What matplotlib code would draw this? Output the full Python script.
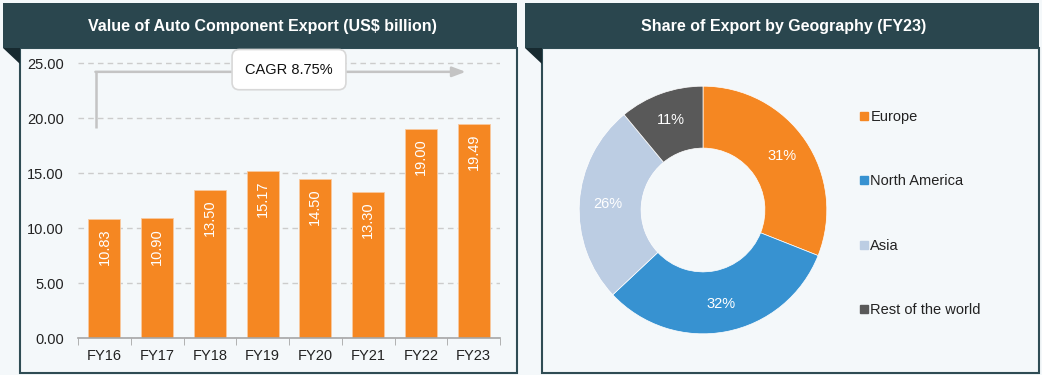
import matplotlib.pyplot as plt
from matplotlib.patches import Rectangle, Polygon
from matplotlib.lines import Line2D

plt.rcParams["font.family"] = ["Liberation Sans", "DejaVu Sans"]

# Data
years = ["FY16", "FY17", "FY18", "FY19", "FY20", "FY21", "FY22", "FY23"]
export_value = [10.83, 10.90, 13.50, 15.17, 14.50, 13.30, 19.00, 19.49]
y_ticks = [0, 5, 10, 15, 20, 25]
cagr_text = "CAGR 8.75%"

regions = ["Europe", "North America", "Asia", "Rest of the world"]
shares = [31, 32, 26, 11]
region_colors = ["#f58722", "#3792d1", "#bccde3", "#595959"]

W, H = 1042, 375
BG = "#f4f8fa"
HEAD = "#2a464e"
FOLD = "#172a30"
ORANGE = "#f58722"

fig = plt.figure(figsize=(W / 100, H / 100), dpi=100, facecolor=BG)


def fx(px):
    return px / W


def fy(py):
    return 1 - py / H


def panel(x0, x1, title):
    # content box
    fig.patches.append(Rectangle((fx(x0 + 17), fy(373)), fx(x1 - x0 - 17), fy(48) - fy(373),
                                 transform=fig.transFigure, facecolor=BG,
                                 edgecolor="#2f4c54", lw=1.5, zorder=-2))
    # header
    fig.patches.append(Rectangle((fx(x0), fy(48)), fx(x1 - x0), fy(3) - fy(48),
                                 transform=fig.transFigure, facecolor=HEAD,
                                 edgecolor="none", zorder=-1))
    # folded corner
    fig.patches.append(Polygon([(fx(x0), fy(48)), (fx(x0 + 17), fy(48)), (fx(x0 + 17), fy(64))],
                               closed=True, transform=fig.transFigure,
                               facecolor=FOLD, edgecolor="none", zorder=-1))
    fig.text(fx((x0 + x1) / 2 + 2), fy(27), title, color="white", fontsize=11.5,
             fontweight="bold", ha="center", va="center")


panel(3, 517, "Value of Auto Component Export (US$ billion)")
panel(525, 1039, "Share of Export by Geography (FY23)")

# Bar chart
ax = fig.add_axes([fx(78), fy(338), fx(500 - 78), fy(55) - fy(338)], zorder=5)
ax.set_facecolor("none")
x = range(len(years))
ax.bar(x, export_value, width=0.61, color=ORANGE, edgecolor="#f8c9a0", lw=0.6, zorder=2)
for xi, v in zip(x, export_value):
    ax.annotate(f"{v:.2f}", (xi, v), xytext=(0, -7), textcoords="offset points",
                rotation=90, ha="center", va="top", color="white", fontsize=10.5)
ax.set_xlim(-0.5, len(years) - 0.5)
ax.set_ylim(0, 25.73)
ax.set_yticks(y_ticks)
ax.set_yticklabels([f"{t:.2f}" for t in y_ticks])
ax.set_xticks(list(x))
ax.set_xticklabels(years)
ax.set_xticks([i + 0.5 for i in range(-1, len(years))], minor=True)
ax.tick_params(axis="x", which="major", length=0, pad=8, labelsize=10.5, labelcolor="#222222")
ax.tick_params(axis="x", which="minor", length=5, color="#a6a6a6", direction="out")
ax.tick_params(axis="y", length=0, pad=10, labelsize=10.5, labelcolor="#222222")
ax.grid(axis="y", color="#cccccc", ls=(0, (4, 3)), lw=1, zorder=0)
for s in ["top", "right", "left"]:
    ax.spines[s].set_visible(False)
ax.spines["bottom"].set_color("#a6a6a6")
ax.spines["bottom"].set_linewidth(1.2)

# CAGR arrow
ax.plot([-0.15, -0.15], [19.1, 24.2], color="#c4c4c4", lw=1.8, clip_on=False, zorder=3,
        solid_capstyle="butt")
ax.annotate("", xy=(6.85, 24.2), xytext=(-0.15 - 0.02, 24.2),
            arrowprops=dict(arrowstyle="-|>,head_length=0.8,head_width=0.3",
                            color="#c4c4c4", lw=1.8, shrinkA=0, shrinkB=0), zorder=3)
ax.text(3.5, 24.4, cagr_text, ha="center", va="center", fontsize=10.5, color="#111111",
        zorder=5, bbox=dict(boxstyle="round,pad=0.9,rounding_size=0.5", fc="white",
                            ec="#d8d8d8", lw=1.2))

# Donut chart
size = 260
ax2 = fig.add_axes([fx(703 - size / 2), fy(210 + size / 2), fx(size), fy(0) - fy(size)], zorder=5)
ax2.set_facecolor("none")
wedges, _, autotexts = ax2.pie(shares, colors=region_colors, startangle=90, counterclock=False,
                               radius=1, wedgeprops=dict(width=0.5, edgecolor="white", lw=0.5),
                               autopct="%.0f%%", pctdistance=0.77,
                               textprops=dict(color="white", fontsize=10.5))
ax2.set_xlim(-1.05, 1.05)
ax2.set_ylim(-1.05, 1.05)
ax2.set_aspect("equal")
ax2.axis("off")

handles = [Line2D([], [], marker="s", ls="none", markersize=6, color=c) for c in region_colors]
fig.legend(handles, regions, loc="upper left", bbox_to_anchor=(fx(844), fy(97)),
           frameon=False, fontsize=10.5, labelspacing=3.45, handletextpad=-0.1,
           handlelength=1.0, labelcolor="#222222")

fig.savefig("out.png", dpi=100, facecolor=BG)
